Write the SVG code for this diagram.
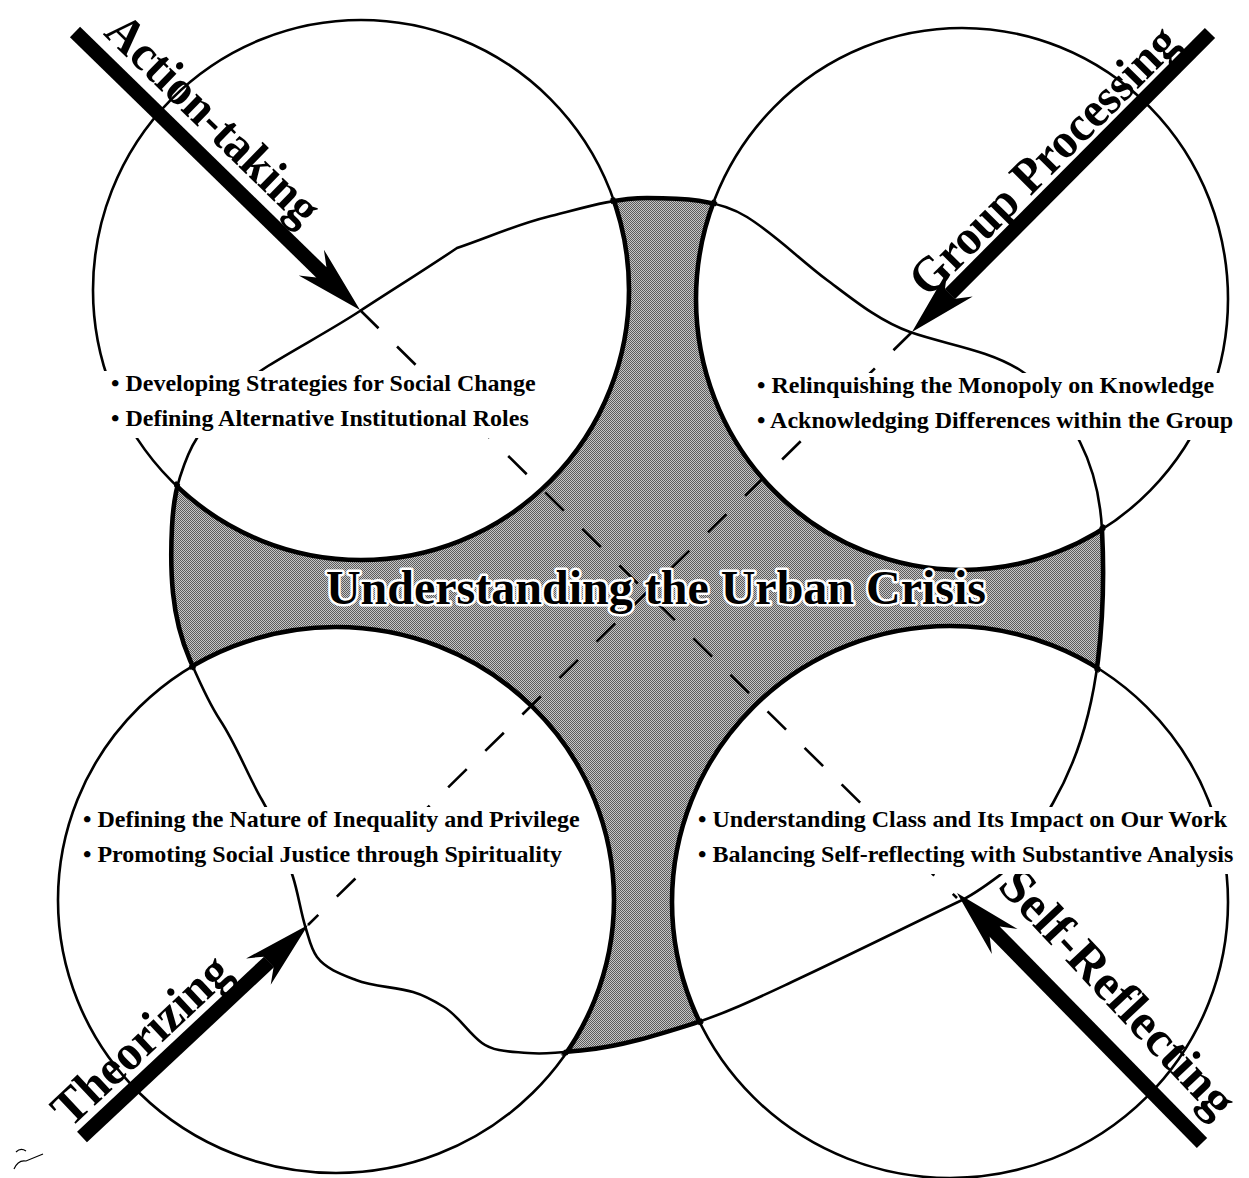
<svg xmlns="http://www.w3.org/2000/svg" xmlns:xlink="http://www.w3.org/1999/xlink" width="1249" height="1178" viewBox="0 0 1249 1178">
  <style>
    .ring { fill: none; stroke: #000; stroke-width: 2.6; }
    .edge { fill: none; stroke: #000; stroke-width: 4.6; }
    .dash { fill: none; stroke: #000; stroke-width: 2.6; stroke-dasharray: 26 26; }
    .shaft { stroke: #000; stroke-width: 14.5; stroke-linecap: butt; }
    .head { fill: #000; }
    .plate { fill: #fff; }
    .bullet { font-family: "Liberation Serif", "Times New Roman", serif; font-weight: bold; font-size: 24px; fill: #000; }
    .label { font-family: "Liberation Serif", "Times New Roman", serif; font-weight: bold; font-size: 50px; fill: #000; text-anchor: middle; }
    .title { font-family: "Liberation Serif", "Times New Roman", serif; font-weight: bold; font-size: 48px; fill: #000; text-anchor: middle; stroke: #fff; stroke-width: 5; stroke-linejoin: round; paint-order: stroke; }
  </style>
  <defs>
    <!-- closed wavy outline of the urban crisis field -->
    <path id="field" d="M268,366 C298.4,347.1 330,330.6 360,311 C392.4,289.8 425,269.6 457,248 C487.1,237.9 516.3,224.6 547,217 C579.9,208.9 613.1,198 647,198 C680.9,198 718.2,199 747,217 C775.8,235 799.9,259.7 827,280 C853.1,299.6 879.4,321.2 910,332 C946.5,344.8 987,349.4 1020,370 C1046.5,386.5 1066,414.2 1080,442 C1093.6,468.9 1100.5,499.8 1102,530 C1104.2,573.4 1103.2,617 1098,660 C1092,709.5 1078,759.5 1053,803 C1038.1,828.9 1023.8,857.1 1000,875 C986.7,885 973,895.4 958,902 C904.1,927.8 849.9,954.8 796,980 C762.2,995.8 727.7,1012.7 692,1024 C657.1,1035 621.3,1046.3 585,1050 C566.2,1051.9 546.8,1054.9 528,1053 C512.5,1051.4 494.6,1052.4 482,1043 C468.1,1032.6 458.8,1016.2 444,1007 C434.2,1000.9 424,995.2 413,992 C394.4,986.6 374,987 356,980 C342,974.6 326.1,969.1 317,957 C311,949 309,938.5 306,929 C300.6,912 298.4,894 293,877 C284.7,850.7 275.9,824.1 262,800 C246.9,773.8 236.6,745 220,720 C207.7,701.4 199,680.6 190,660 C180.8,638.8 175.3,616 173,593 C170.8,571 170.9,549 172,527 C172.8,510.1 174.9,493 180,477 C184.3,463.5 189.2,449.8 197,438 C215.5,410 239.4,383.9 268,366 Z"/>
    <ellipse id="ringTL" cx="361" cy="290" rx="268" ry="270"/>
    <ellipse id="ringTR" cx="962" cy="299" rx="266" ry="271"/>
    <ellipse id="ringBL" cx="336" cy="900" rx="278" ry="273"/>
    <ellipse id="ringBR" cx="950" cy="902" rx="278" ry="276"/>
    <!-- barbed arrowhead, tip at the origin, pointing along +x -->
    <path id="arrowHead" d="M0,0 L-68,-18 L-54,-7.25 L-54,7.25 L-68,18 Z"/>
    <pattern id="halftone" width="2" height="2" patternUnits="userSpaceOnUse">
      <rect width="2" height="2" fill="#c6c6c6"/>
      <rect width="1" height="1" fill="#5c5c5c"/>
      <rect x="1" y="1" width="1" height="1" fill="#5c5c5c"/>
    </pattern>
    <!-- shaded area: inside the wavy outline, outside the four circles -->
    <mask id="fieldMask" maskUnits="userSpaceOnUse" x="0" y="0" width="1249" height="1178">
      <rect width="1249" height="1178" fill="#000"/>
      <use xlink:href="#field" fill="#fff"/>
      <use xlink:href="#ringTL" fill="#000"/>
      <use xlink:href="#ringTR" fill="#000"/>
      <use xlink:href="#ringBL" fill="#000"/>
      <use xlink:href="#ringBR" fill="#000"/>
    </mask>
    <!-- slightly grown shaded area, used to thicken the lines that bound it -->
    <mask id="edgeMask" maskUnits="userSpaceOnUse" x="0" y="0" width="1249" height="1178">
      <rect width="1249" height="1178" fill="#000"/>
      <use xlink:href="#field" fill="#fff" stroke="#fff" stroke-width="7"/>
      <ellipse cx="361" cy="290" rx="264.5" ry="266.5" fill="#000"/>
      <ellipse cx="962" cy="299" rx="262.5" ry="267.5" fill="#000"/>
      <ellipse cx="336" cy="900" rx="274.5" ry="269.5" fill="#000"/>
      <ellipse cx="950" cy="902" rx="274.5" ry="272.5" fill="#000"/>
    </mask>
  </defs>

  <rect width="1249" height="1178" fill="#fff"/>

  <!-- central field: Understanding the Urban Crisis -->
  <g id="crisis-field">
    <rect width="1249" height="1178" fill="url(#halftone)" mask="url(#fieldMask)"/>
    <use xlink:href="#field" class="ring"/>
  </g>

  <!-- the four circles -->
  <g id="circle-action-taking"><use xlink:href="#ringTL" class="ring"/></g>
  <g id="circle-group-processing"><use xlink:href="#ringTR" class="ring"/></g>
  <g id="circle-theorizing"><use xlink:href="#ringBL" class="ring"/></g>
  <g id="circle-self-reflecting"><use xlink:href="#ringBR" class="ring"/></g>

  <!-- heavier outline around the shaded field -->
  <g id="crisis-edges" mask="url(#edgeMask)">
    <use xlink:href="#field" class="edge"/>
    <use xlink:href="#ringTL" class="edge"/>
    <use xlink:href="#ringTR" class="edge"/>
    <use xlink:href="#ringBL" class="edge"/>
    <use xlink:href="#ringBR" class="edge"/>
  </g>

  <!-- connectors: dashed diagonals and the four heavy arrows -->
  <g id="connectors">
    <line class="dash" x1="360" y1="310" x2="957" y2="898"/>
    <line class="dash" x1="912" y1="332" x2="308" y2="925"/>

    <line class="shaft" x1="75" y1="32" x2="322" y2="273"/>
    <use xlink:href="#arrowHead" class="head" transform="translate(360,310) rotate(44.29)"/>

    <line class="shaft" x1="1210" y1="33" x2="950" y2="294"/>
    <use xlink:href="#arrowHead" class="head" transform="translate(912,332) rotate(134.9)"/>

    <line class="shaft" x1="82" y1="1137" x2="269" y2="962"/>
    <use xlink:href="#arrowHead" class="head" transform="translate(308,925) rotate(-43.17)"/>

    <line class="shaft" x1="1202" y1="1143" x2="994" y2="931"/>
    <use xlink:href="#arrowHead" class="head" transform="translate(957,893) rotate(-134.5)"/>
  </g>

  <!-- arrow labels -->
  <g id="label-action-taking">
    <text class="label" transform="translate(202,131) rotate(44.3)" textLength="278" lengthAdjust="spacingAndGlyphs">Action-taking</text>
  </g>
  <g id="label-group-processing">
    <text class="label" transform="translate(1055,172) rotate(-45.1)" textLength="358" lengthAdjust="spacingAndGlyphs">Group Processing</text>
  </g>
  <g id="label-theorizing">
    <text class="label" transform="translate(152,1052) rotate(-43.2)" textLength="224" lengthAdjust="spacingAndGlyphs">Theorizing</text>
  </g>
  <g id="label-self-reflecting">
    <text class="label" transform="translate(1106,1004) rotate(46.8)" textLength="320" lengthAdjust="spacingAndGlyphs">Self-Reflecting</text>
  </g>

  <!-- bullet lists inside each circle -->
  <g id="list-action-taking">
    <rect class="plate" x="103" y="371" width="440" height="67"/>
    <text class="bullet" x="111" y="391">• Developing Strategies for Social Change</text>
    <text class="bullet" x="111" y="426">• Defining Alternative Institutional Roles</text>
  </g>
  <g id="list-group-processing">
    <rect class="plate" x="750" y="373" width="493" height="67"/>
    <text class="bullet" x="757" y="393">• Relinquishing the Monopoly on Knowledge</text>
    <text class="bullet" x="757" y="428">• Acknowledging Differences within the Group</text>
  </g>
  <g id="list-theorizing">
    <rect class="plate" x="79" y="807" width="508" height="67"/>
    <text class="bullet" x="83" y="827">• Defining the Nature of Inequality and Privilege</text>
    <text class="bullet" x="83" y="862">• Promoting Social Justice through Spirituality</text>
  </g>
  <g id="list-self-reflecting">
    <rect class="plate" x="692" y="807" width="552" height="67"/>
    <text class="bullet" x="698" y="827">• Understanding Class and Its Impact on Our Work</text>
    <text class="bullet" x="698" y="862">• Balancing Self-reflecting with Substantive Analysis</text>
  </g>

  <!-- central title -->
  <g id="title-urban-crisis">
    <text class="title" x="656" y="604">Understanding the Urban Crisis</text>
  </g>

  <!-- small stray pen mark, lower left -->
  <path d="M14,1169 C17,1162 21,1160 26,1161 L43,1154 M16,1152 C19,1149 23,1149 26,1151" fill="none" stroke="#000" stroke-width="1.2"/>
</svg>
